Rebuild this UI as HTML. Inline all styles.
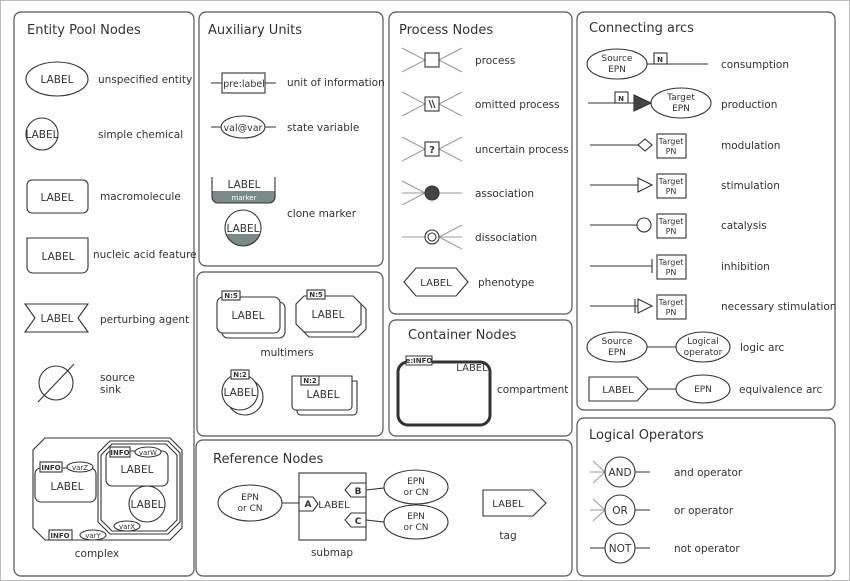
<!DOCTYPE html>
<html><head><meta charset="utf-8"><style>
html,body{margin:0;padding:0;background:#fff;}
svg{display:block;font-family:"DejaVu Sans","Liberation Sans",sans-serif;}
.t{font-size:13px;fill:#333;}
.l{font-size:10.5px;fill:#333;}
.s{font-size:10px;fill:#333;}
.x{font-size:7px;fill:#333;font-weight:bold;}
</style></head><body>
<svg width="850" height="581" viewBox="0 0 850 581" xmlns="http://www.w3.org/2000/svg">
<rect x="0.5" y="0.5" width="849" height="580" fill="#fff" stroke="#bbb"/>
<g fill="none" stroke="#555" stroke-width="1.2">
<rect x="14" y="12" width="180" height="564" rx="7"/>
<rect x="199" y="12" width="184" height="254" rx="7"/>
<rect x="197" y="272" width="186" height="164" rx="7"/>
<rect x="196" y="440" width="376" height="136" rx="7"/>
<rect x="389" y="12" width="183" height="302" rx="7"/>
<rect x="389" y="320" width="183" height="116" rx="7"/>
<rect x="577" y="12" width="258" height="398" rx="7"/>
<rect x="577" y="418" width="258" height="158" rx="7"/>
</g>
<g class="t">
<text x="27" y="34" class="t">Entity Pool Nodes</text>
<text x="208" y="34" class="t">Auxiliary Units</text>
<text x="399" y="34" class="t">Process Nodes</text>
<text x="408" y="339" class="t">Container Nodes</text>
<text x="213" y="463" class="t">Reference Nodes</text>
<text x="589" y="32" class="t">Connecting arcs</text>
<text x="589" y="439" class="t">Logical Operators</text>
</g>
<g fill="#fff" stroke="#333" stroke-width="1.1">
<ellipse cx="57" cy="79" rx="31" ry="17"/>
<circle cx="42" cy="134" r="16"/>
<rect x="27" y="180" width="61" height="33" rx="5"/>
<path d="M27 238 H88 V267 a6 6 0 0 1 -6 6 H33 a6 6 0 0 1 -6 -6 Z"/>
<polygon points="25,304 88,304 78,318 88,332 25,332 35,318"/>
<circle cx="56" cy="383" r="17"/>
<line x1="38" y1="402" x2="74" y2="364"/>
<polygon points="45,438 170,438 182,450 182,528 170,540 45,540 33,528 33,450"/>
<rect x="35" y="468" width="61" height="34" rx="6"/>
<polygon points="110,441 168,441 180,453 180,522 168,534 110,534 98,522 98,453"/>
<polygon points="112,444 166,444 177,455 177,520 166,531 112,531 101,520 101,455"/>
<rect x="106" y="451" width="62" height="35" rx="6"/>
<circle cx="147" cy="504" r="18"/>
<rect x="40" y="462" width="22" height="10"/>
<ellipse cx="80" cy="467" rx="13" ry="5"/>
<rect x="110" y="447" width="20" height="10"/>
<ellipse cx="148" cy="452" rx="13" ry="5"/>
<ellipse cx="127" cy="526" rx="13" ry="5"/>
<rect x="49" y="530" width="23" height="10"/>
<ellipse cx="93" cy="535" rx="13" ry="5"/>
<line x1="211" y1="83" x2="276" y2="83"/>
<rect x="222" y="73" width="43" height="20"/>
<line x1="211" y1="127" x2="276" y2="127"/>
<ellipse cx="243" cy="127" rx="22" ry="11"/>
<path d="M212 191 V197 a6 6 0 0 0 6 6 H269 a6 6 0 0 0 6 -6 V191 Z" fill="#7a8a88" stroke="none"/>
<path d="M212 177 V197 a6 6 0 0 0 6 6 H269 a6 6 0 0 0 6 -6 V177" fill="none"/>
<path d="M226 234 a18 18 0 0 0 34 0 Z" fill="#7a8a88" stroke="none"/>
<circle cx="243" cy="228" r="18" fill="none"/>
<rect x="222" y="302" width="63" height="36" rx="6"/>
<rect x="217" y="297" width="63" height="36" rx="6"/>
<polygon points="309,301 358,301 366,309 366,329 358,337 309,337 301,329 301,309"/>
<polygon points="304,296 353,296 361,304 361,324 353,332 304,332 296,324 296,304"/>
<rect x="222" y="291" width="18" height="9"/>
<rect x="307" y="290" width="18" height="9"/>
<circle cx="245" cy="397" r="18"/>
<circle cx="240" cy="392" r="18"/>
<rect x="231" y="370" width="18" height="9"/>
<path d="M297 381 H357 V411 a4 4 0 0 1 -4 4 H301 a4 4 0 0 1 -4 -4 Z"/>
<path d="M292 376 H352 V406 a4 4 0 0 1 -4 4 H296 a4 4 0 0 1 -4 -4 Z"/>
<rect x="301" y="376" width="18" height="9"/>
</g>
<g fill="none" stroke="#999" stroke-width="1">
<path d="M402 48 L425 60 L402 72 M439 60 L462 48 M439 60 L462 72"/>
<path d="M402 92 L425 104 L402 116 M439 104 L462 92 M439 104 L462 116"/>
<path d="M402 137 L425 149 L402 161 M439 149 L462 137 M439 149 L462 161"/>
<path d="M402 181 L425 193 L402 205 M402 193 H462"/>
<path d="M402 237 H462 M439 237 L462 225 M439 237 L462 249"/>
<path d="M593 461 L605 472 L593 483 M590 472 H605 M593 499 L605 510 L593 521 M590 510 H605"/>
</g>
<g fill="#fff" stroke="#333" stroke-width="1.1">
<rect x="425" y="53" width="14" height="14"/>
<rect x="425" y="97" width="14" height="14"/>
<path d="M429 100 L432 108 M432 100 L435 108" />
<rect x="425" y="142" width="14" height="14"/>
<circle cx="432" cy="193" r="7" fill="#444"/>
<circle cx="432" cy="237" r="7"/>
<circle cx="432" cy="237" r="4"/>
<polygon points="416,268 456,268 468,282 456,296 416,296 404,282"/>
<rect x="398" y="362" width="92" height="63" rx="10" stroke-width="3"/>
<rect x="406" y="356" width="26" height="9" stroke-width="1"/>
<line x1="282" y1="503" x2="299" y2="503"/>
<ellipse cx="250" cy="503" rx="32" ry="18"/>
<rect x="299" y="473" width="67" height="67"/>
<polygon points="299,497 313,497 318,504 313,511 299,511"/>
<line x1="366" y1="490" x2="384" y2="488"/>
<line x1="366" y1="520" x2="384" y2="522"/>
<polygon points="366,483 351,483 345,490 351,497 366,497"/>
<polygon points="366,513 351,513 345,520 351,527 366,527"/>
<ellipse cx="416" cy="487" rx="32" ry="17"/>
<ellipse cx="416" cy="522" rx="32" ry="17"/>
<polygon points="483,490 533,490 546,503 533,516 483,516"/>
<line x1="647" y1="64" x2="708" y2="64"/>
<ellipse cx="617" cy="64" rx="30" ry="15"/>
<rect x="654" y="53" width="13" height="11"/>
<line x1="588" y1="103" x2="636" y2="103"/>
<rect x="615" y="92" width="13" height="11"/>
<polygon points="634,95 651,103 634,111" fill="#444"/>
<ellipse cx="681" cy="103" rx="30" ry="15"/>
<line x1="590" y1="145" x2="638" y2="145"/>
<polygon points="638,145 645,139 652,145 645,151"/>
<rect x="657" y="134" width="29" height="24"/>
<line x1="590" y1="185" x2="638" y2="185"/>
<polygon points="638,178 652,185 638,192"/>
<rect x="657" y="174" width="29" height="24"/>
<line x1="590" y1="225" x2="637" y2="225"/>
<circle cx="644" cy="225" r="7"/>
<rect x="657" y="214" width="29" height="24"/>
<line x1="590" y1="266" x2="652" y2="266"/>
<line x1="652" y1="259" x2="652" y2="273"/>
<rect x="657" y="255" width="29" height="24"/>
<line x1="590" y1="306" x2="638" y2="306"/>
<line x1="635" y1="299" x2="635" y2="313"/>
<polygon points="638,299 652,306 638,313"/>
<rect x="657" y="295" width="29" height="24"/>
<line x1="647" y1="347" x2="676" y2="347"/>
<ellipse cx="617" cy="347" rx="30" ry="15"/>
<ellipse cx="703" cy="347" rx="27" ry="15"/>
<line x1="648" y1="389" x2="676" y2="389"/>
<polygon points="589,377 637,377 648,389 637,401 589,401"/>
<ellipse cx="703" cy="389" rx="27" ry="14"/>
<line x1="605" y1="472" x2="650" y2="472"/>
<circle cx="620" cy="472" r="15"/>
<line x1="605" y1="510" x2="650" y2="510"/>
<circle cx="620" cy="510" r="15"/>
<line x1="590" y1="548" x2="650" y2="548"/>
<circle cx="620" cy="548" r="15"/>
</g>
<g class="l" text-anchor="middle">
<text x="57" y="83">LABEL</text>
<text x="42" y="138">LABEL</text>
<text x="57" y="201">LABEL</text>
<text x="58" y="260">LABEL</text>
<text x="57" y="322">LABEL</text>
<text x="67" y="490">LABEL</text>
<text x="137" y="473">LABEL</text>
<text x="147" y="508">LABEL</text>
<text x="248" y="319">LABEL</text>
<text x="328" y="318">LABEL</text>
<text x="240" y="396">LABEL</text>
<text x="323" y="398">LABEL</text>
<text x="244" y="87" style="font-size:9.5px">pre:label</text>
<text x="243" y="131" style="font-size:9.5px">val@var</text>
<text x="244" y="188">LABEL</text>
<text x="243" y="232">LABEL</text>
<text x="436" y="286" class="s">LABEL</text>
<text x="472" y="371" class="s">LABEL</text>
<text x="508" y="507" class="s">LABEL</text>
<text x="618" y="393" class="s">LABEL</text>
<text x="97" y="557">complex</text>
<text x="287" y="356">multimers</text>
<text x="332" y="556">submap</text>
<text x="508" y="539">tag</text>
<text x="432" y="153" style="font-size:10px;font-weight:bold">?</text>
<text x="620" y="476">AND</text>
<text x="620" y="514">OR</text>
<text x="620" y="552">NOT</text>
</g>
<g class="s" text-anchor="middle" style="font-size:9px">
<text x="250" y="500">EPN</text><text x="250" y="511">or CN</text>
<text x="416" y="484">EPN</text><text x="416" y="495">or CN</text>
<text x="416" y="519">EPN</text><text x="416" y="530">or CN</text>
<text x="617" y="61">Source</text><text x="617" y="72">EPN</text>
<text x="681" y="100">Target</text><text x="681" y="111">EPN</text>
<text x="617" y="344">Source</text><text x="617" y="355">EPN</text>
<text x="703" y="344">Logical</text><text x="703" y="355">operator</text>
<text x="703" y="392">EPN</text>
<text x="334" y="508" style="font-size:10px">LABEL</text>
</g>
<g style="font-size:8px;fill:#333" text-anchor="middle">
<text x="671" y="144">Target</text><text x="671" y="154">PN</text>
<text x="671" y="184">Target</text><text x="671" y="194">PN</text>
<text x="671" y="224">Target</text><text x="671" y="234">PN</text>
<text x="671" y="265">Target</text><text x="671" y="275">PN</text>
<text x="671" y="305">Target</text><text x="671" y="315">PN</text>
</g>
<g class="x" text-anchor="middle">
<text x="660" y="62">N</text><text x="621" y="101">N</text>
<text x="51" y="470">INFO</text><text x="80" y="470" font-weight="normal">varZ</text>
<text x="120" y="455">INFO</text><text x="148" y="455" font-weight="normal">varW</text>
<text x="127" y="529" font-weight="normal">varX</text>
<text x="60" y="538">INFO</text><text x="93" y="538" font-weight="normal">varY</text>
<text x="231" y="298">N:5</text><text x="316" y="297">N:5</text>
<text x="240" y="377">N:2</text><text x="310" y="383">N:2</text>
<text x="419" y="363">e:INFO</text>
<text x="308" y="507" style="font-size:9px">A</text>
<text x="358" y="494" style="font-size:9px">B</text>
<text x="358" y="524" style="font-size:9px">C</text>
<text x="244" y="200" style="fill:#fff;font-weight:normal">marker</text>
</g>
<g class="l">
<text x="98" y="83">unspecified entity</text>
<text x="98" y="138">simple chemical</text>
<text x="100" y="200">macromolecule</text>
<text x="93" y="258">nucleic acid feature</text>
<text x="100" y="323">perturbing agent</text>
<text x="100" y="381">source</text>
<text x="100" y="393">sink</text>
<text x="287" y="86">unit of information</text>
<text x="287" y="131">state variable</text>
<text x="287" y="217">clone marker</text>
<text x="475" y="64">process</text>
<text x="475" y="108">omitted process</text>
<text x="475" y="153">uncertain process</text>
<text x="475" y="197">association</text>
<text x="475" y="241">dissociation</text>
<text x="478" y="286">phenotype</text>
<text x="497" y="393">compartment</text>
<text x="721" y="68">consumption</text>
<text x="721" y="108">production</text>
<text x="721" y="149">modulation</text>
<text x="721" y="189">stimulation</text>
<text x="721" y="229">catalysis</text>
<text x="721" y="270">inhibition</text>
<text x="721" y="310">necessary stimulation</text>
<text x="740" y="351">logic arc</text>
<text x="739" y="393">equivalence arc</text>
<text x="674" y="476">and operator</text>
<text x="674" y="514">or operator</text>
<text x="674" y="552">not operator</text>
</g>
</svg>
</body></html>
